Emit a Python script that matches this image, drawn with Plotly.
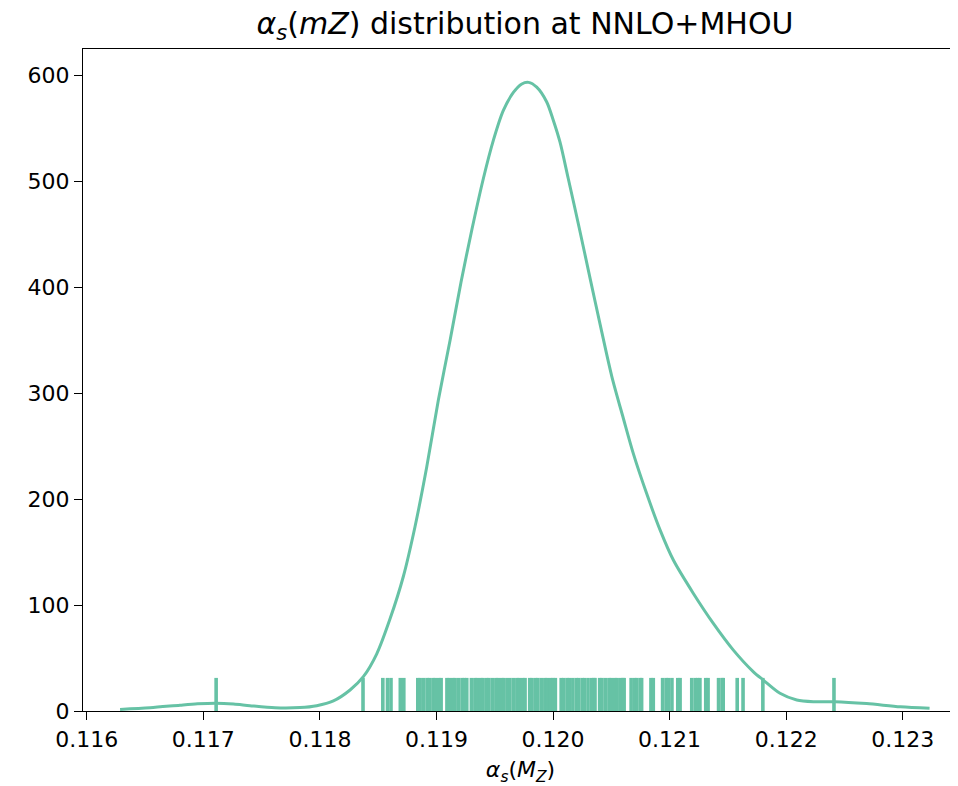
import plotly.graph_objects as go

# KDE curve
kde_x = [0.116286, 0.116543, 0.116800, 0.116950, 0.117107, 0.117260, 0.117400, 0.117615,
         0.117830, 0.117973, 0.118116, 0.118259, 0.118373, 0.118488, 0.118602, 0.118716,
         0.118816, 0.118917, 0.119016, 0.119117, 0.119211, 0.119305, 0.119402, 0.119488,
         0.119574, 0.119660, 0.119732, 0.119790, 0.119860, 0.119946, 0.120003, 0.120060,
         0.120131, 0.120223, 0.120318, 0.120412, 0.120504, 0.120603, 0.120689, 0.120804,
         0.120918, 0.121032, 0.121204, 0.121375, 0.121547, 0.121719, 0.121804, 0.121947,
         0.122091, 0.122233, 0.122380, 0.122420, 0.122690, 0.122980, 0.123230]
kde_y = [1.5, 3.0, 5.5, 6.8, 7.4, 6.6, 5.0, 3.0,
         3.2, 5.0, 9.5, 19.8, 32.4, 54, 87, 127,
         174, 230.5, 293.4, 350, 405, 455, 502.5, 538.7,
         567, 584, 592, 593.5, 589, 575, 557.5, 537,
         502.5, 457, 408.5, 361, 316, 276.4, 243, 205,
         171, 142.5, 111, 82.7, 57.5, 37, 29.2, 16.7,
         10.4, 8.8, 8.8, 8.8, 7.0, 4.0, 2.5]

# rug samples
samples = [0.11711, 0.11837, 0.11854, 0.11858, 0.11861, 0.11869, 0.11872,
           0.11884, 0.11886, 0.11889, 0.11892, 0.11894, 0.11897, 0.11899, 0.11902, 0.11904,
           0.11909, 0.11911, 0.11914, 0.11916, 0.11919, 0.11922, 0.11924, 0.11926,
           0.11930, 0.11933, 0.11935, 0.11938, 0.11940, 0.11943, 0.11945, 0.11948, 0.11951,
           0.11953, 0.11956, 0.11958, 0.11961, 0.11963, 0.11966, 0.11969, 0.11971, 0.11974, 0.11976,
           0.11980, 0.11982, 0.11985, 0.11987, 0.11990, 0.11993, 0.11995, 0.11998, 0.12000, 0.12002,
           0.12007, 0.12009, 0.12012, 0.12014, 0.12017, 0.12020, 0.12022, 0.12025, 0.12027,
           0.12030, 0.12033, 0.12035, 0.12036,
           0.12040, 0.12042, 0.12045, 0.12048, 0.12050, 0.12053, 0.12055, 0.12058, 0.12060, 0.12061,
           0.12067, 0.12070, 0.12072, 0.12075, 0.12076,
           0.12084, 0.12086, 0.12094, 0.12097, 0.12099, 0.12102, 0.12107, 0.12109,
           0.12119, 0.12122, 0.12124, 0.12126, 0.12131, 0.12133,
           0.12142, 0.12145, 0.12146, 0.12158, 0.12163, 0.12180, 0.12241]

x_ticks = [0.116, 0.117, 0.118, 0.119, 0.120, 0.121, 0.122, 0.123]
x_tick_labels = ["0.116", "0.117", "0.118", "0.119", "0.120", "0.121", "0.122", "0.123"]
y_ticks = [0, 100, 200, 300, 400, 500, 600]

COLOR = "#66c2a5"
Y_MAX = 625.0
RUG_FRAC = 0.05

rug_x, rug_y = [], []
for s in samples:
    rug_x += [s, s, None]
    rug_y += [0, RUG_FRAC * Y_MAX, None]

fig = go.Figure()
fig.add_trace(go.Scatter(x=rug_x, y=rug_y, mode="lines",
                         line=dict(color=COLOR, width=3.6),
                         hoverinfo="skip", showlegend=False))
fig.add_trace(go.Scatter(x=kde_x, y=kde_y, mode="lines",
                         line=dict(color=COLOR, width=3, shape="spline", smoothing=0.8),
                         showlegend=False))

font = "DejaVu Sans"
# page body has an 8px margin, so the figure is sized/offset to compensate
fig.update_layout(
    width=950, height=778,
    margin=dict(l=75, r=0, t=41, b=75),
    plot_bgcolor="white", paper_bgcolor="white",
    font=dict(family=font, size=22, color="black"),
    title=dict(text="<i>α</i><sub><i>s</i></sub>(<i>mZ</i>) distribution at NNLO+MHOU",
               x=(517 - 75) / 875, xref="paper", xanchor="center",
               y=1 - 15 / 778, yref="container", yanchor="middle",
               font=dict(family=font, size=30, color="black")),
    xaxis=dict(range=[0.115968, 0.123474], tickvals=x_ticks, ticktext=x_tick_labels,
               showline=True, linecolor="black", linewidth=1.3, mirror=True,
               ticks="outside", ticklen=8, tickwidth=1.3, tickcolor="black",
               showgrid=False, zeroline=False,
               title=dict(text="<i>α</i><sub><i>s</i></sub>(<i>M</i><sub><i>Z</i></sub>)",
                          font=dict(family=font, size=22), standoff=12)),
    yaxis=dict(range=[0, Y_MAX], tickvals=y_ticks,
               showline=True, linecolor="black", linewidth=1.3, mirror=False,
               ticks="outside", ticklen=8, tickwidth=1.3, tickcolor="black",
               showgrid=False, zeroline=False),
)

fig.write_html("out.html")
